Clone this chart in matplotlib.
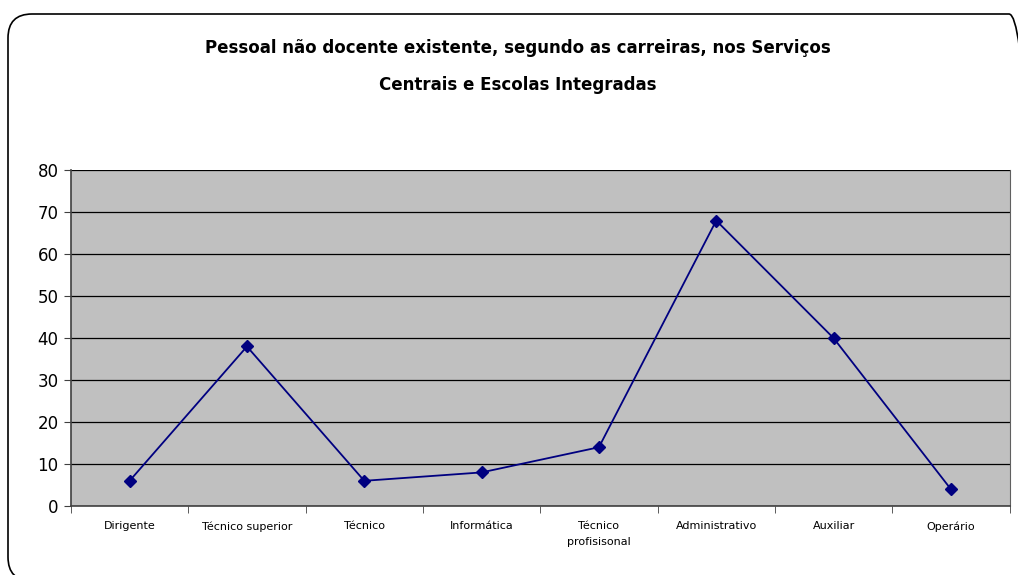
import matplotlib.pyplot as plt
from matplotlib.patches import FancyBboxPatch
from matplotlib.transforms import IdentityTransform
from matplotlib.ticker import FixedLocator, NullFormatter

categories = ["Dirigente", "Técnico superior", "Técnico", "Informática",
              "Técnico\nprofisisonal", "Administrativo", "Auxiliar", "Operário"]
values = [6, 38, 6, 8, 14, 68, 40, 4]

fig = plt.figure(figsize=(10.18, 5.75), dpi=100)

# rounded outer border (pixel coords, runs off the right/bottom edge)
border = FancyBboxPatch((8, -6), 1025, 567,
                        boxstyle="round,pad=0,rounding_size=24",
                        transform=IdentityTransform(), fill=False,
                        edgecolor="black", linewidth=1.2)
fig.patches.append(border)

ax = fig.add_axes([0.0697, 0.12, 0.922, 0.584])
ax.set_facecolor("#C0C0C0")

x = list(range(len(categories)))
ax.plot(x, values, color="#000080", linewidth=1.3, marker="D",
        markersize=6.5, markerfacecolor="#000080", markeredgecolor="#000080",
        zorder=3)

ax.set_xlim(-0.5, len(categories) - 0.5)
ax.set_ylim(0, 80)
ax.set_yticks(range(0, 81, 10))
ax.yaxis.grid(True, color="black", linewidth=0.9)
ax.set_axisbelow(True)

ax.set_xticks(x)
ax.set_xticklabels(categories, fontsize=8, linespacing=1.7)
ax.tick_params(axis="x", which="major", length=0, pad=11)
ax.xaxis.set_minor_locator(FixedLocator([i - 0.5 for i in range(len(categories) + 1)]))
ax.xaxis.set_minor_formatter(NullFormatter())
ax.tick_params(axis="x", which="minor", length=5, color="#404040")
ax.tick_params(axis="y", labelsize=12, length=5, color="#404040", pad=4)

ax.spines["top"].set_visible(False)
ax.spines["right"].set_color("#606060")
ax.spines["left"].set_color("#404040")
ax.spines["bottom"].set_color("#404040")
ax.spines["left"].set_linewidth(1.2)
ax.spines["bottom"].set_linewidth(1.2)

fig.text(0.509, 0.916, "Pessoal não docente existente, segundo as carreiras, nos Serviços",
         ha="center", va="center", fontsize=12, fontweight="bold")
fig.text(0.509, 0.853, "Centrais e Escolas Integradas",
         ha="center", va="center", fontsize=12, fontweight="bold")

fig.savefig("out.png", dpi=100)
